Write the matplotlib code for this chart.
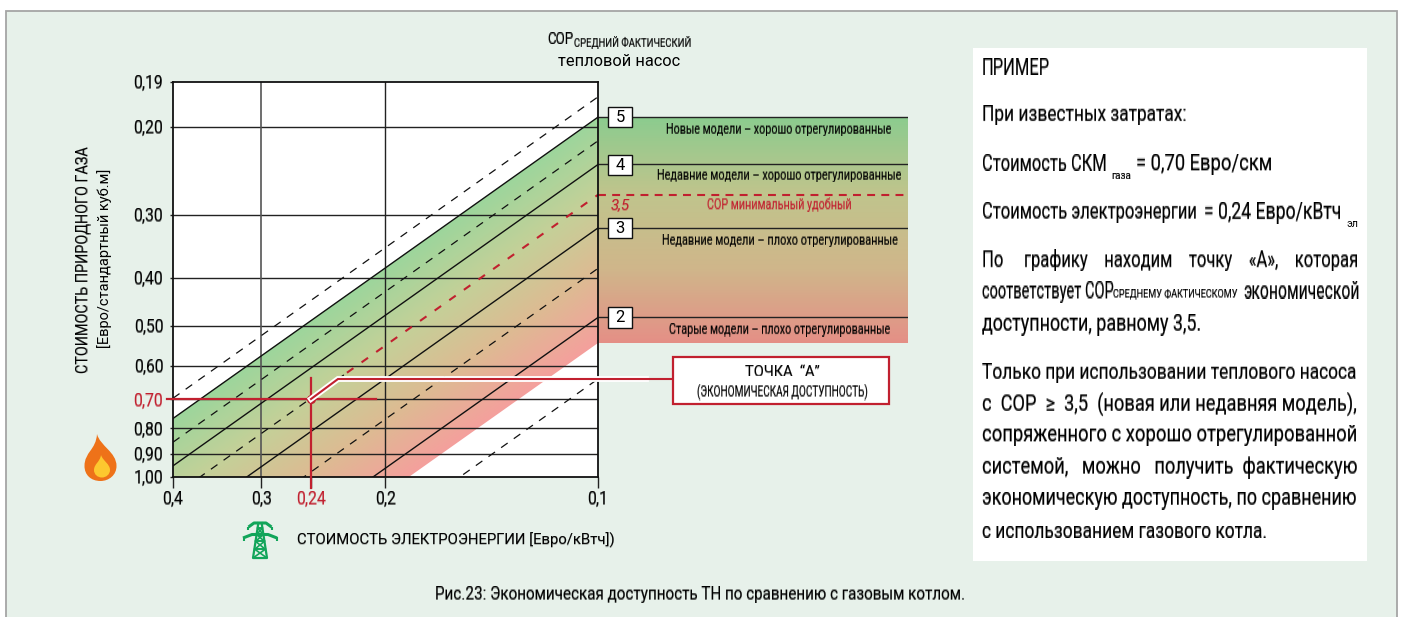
import numpy as np
import matplotlib
matplotlib.use("Agg")
import matplotlib.pyplot as plt
from matplotlib.colors import LinearSegmentedColormap
from matplotlib.patches import Rectangle, Polygon, PathPatch
from matplotlib.path import Path

W, H = 1403, 617
FONT = ['Roboto', 'DejaVu Sans']
RED = '#c1202f'
INK = '#000000'

# ---- data ----
elec_ends = [0.4, 0.1]
solid_cop = [5, 4, 3, 2]
solid_gas_at_04 = [0.764, 0.950, 1.272, 1.920]
solid_gas_at_01 = [0.191, 0.2375, 0.318, 0.480]
dashed_cop = [5.5, 4.5, 2.5, 1.5]
dashed_gas_at_04 = [0.696, 0.852, 1.532, 2.548]
dashed_gas_at_01 = [0.174, 0.213, 0.383, 0.637]
mid_gas_at_04 = 1.092
mid_gas_at_01 = 0.273
mid_red_from = (0.2268, 0.619)
band_low_at_04 = 2.16
band_low_at_01 = 0.54

gas_ticks = [0.2, 0.3, 0.4, 0.5, 0.6, 0.7, 0.8, 0.9, 1.0]
gas_labels = ['0,20', '0,30', '0,40', '0,50', '0,60', '0,70', '0,80', '0,90', '1,00']
gas_top = 0.1625
gas_top_label = '0,19'
elec_ticks = [0.4, 0.3, 0.2, 0.1]
elec_labels = ['0,4', '0,3', '0,2', '0,1']
point_x, point_x_label = 0.255, '0,24'
point_y, point_y_label = 0.70, '0,70'
cross_y_span = [0.634, 1.052]
cross_x_span = [0.408, 0.206]

fig = plt.figure(figsize=(W / 100, H / 100), dpi=100, facecolor='white')
renderer = fig.canvas.get_renderer()


def stretch(factor, axis=0):
    """Agg filter: makes the drawn glyphs taller, for the condensed look of the original type."""
    def f(img, dpi):
        a = img[..., 3:4]
        pm = np.concatenate([img[..., :3] * a, a], axis=2)
        n = pm.shape[axis]
        m = max(1, int(round(n * factor)))
        pos = np.clip((np.arange(m) + 0.5) / factor - 0.5, 0, n - 1)
        i0 = np.floor(pos).astype(int)
        i1 = np.minimum(i0 + 1, n - 1)
        t = pos - i0
        shape = [1, 1, 1]
        shape[axis] = -1
        t = t.reshape(shape)
        out = np.take(pm, i0, axis) * (1 - t) + np.take(pm, i1, axis) * t
        alpha = out[..., 3:4]
        rgb = np.where(alpha > 1e-4, out[..., :3] / np.maximum(alpha, 1e-4), 0)
        res = np.clip(np.concatenate([rgb, alpha ** 0.72], axis=2), 0, 1)
        d = -(m - n) // 2
        return (res, 0, d) if axis == 0 else (res, d, 0)
    return f


def axes_px(x0, y0, x1, y1, **kw):
    return fig.add_axes([x0 / W, 1 - y1 / H, (x1 - x0) / W, (y1 - y0) / H], **kw)


bg = axes_px(0, 0, W, H)
bg.set_xlim(0, W); bg.set_ylim(H, 0); bg.axis('off')
bg.add_patch(Rectangle((6, 11), 1391, 620, fc='#e7f1ea', ec='#a5a5a5', lw=1.3))
bg.add_patch(Rectangle((973, 48), 394, 513, fc='white', ec='none'))

# ---- main chart ----
ax = axes_px(173, 82, 598, 477, zorder=2)
ax.set_xscale('log'); ax.set_yscale('log')
ax.set_xlim(0.4, 0.1); ax.set_ylim(1.0, gas_top)
ax.set_facecolor('white')

band = LinearSegmentedColormap.from_list('band', ['#9cd59b', '#c3d098', '#dcbb92', '#f49f9c'])
side = LinearSegmentedColormap.from_list('side', ['#8bcb8e', '#bfc48c', '#cfb68a', '#e48f86'])

xg = np.geomspace(0.4, 0.1, 500)
yg = np.geomspace(0.1, 2.4, 900)
XX, YY = np.meshgrid(xg, yg)
ratio = np.log10(YY / XX)
lo = np.log10(solid_gas_at_01[0] / elec_ends[1])
hi = np.log10(band_low_at_01 / elec_ends[1])
m = ax.pcolormesh(XX, YY, (ratio - lo) / (hi - lo), cmap=band, vmin=0, vmax=1,
                  shading='nearest', rasterized=True, zorder=1)
clip = Polygon([(elec_ends[0], solid_gas_at_04[0]), (elec_ends[1], solid_gas_at_01[0]),
                (elec_ends[1], band_low_at_01), (elec_ends[0], band_low_at_04)],
               transform=ax.transData, fc='none', ec='none')
ax.add_patch(clip)
m.set_clip_path(clip)

ax.set_xticks(elec_ticks + [point_x], elec_labels + [point_x_label])
ax.set_yticks([gas_top] + gas_ticks, [gas_top_label] + gas_labels)
ax.minorticks_off()
ax.tick_params(axis='x', length=8, width=1, pad=3, labelsize=11.3, color='#222222')
ax.tick_params(axis='y', length=2, width=1, pad=5, labelsize=11.3, color='#222222')
for lab in ax.get_xticklabels() + ax.get_yticklabels():
    lab.set_family(FONT); lab.set_color(INK)
    lab.set_agg_filter(stretch(1.12))
    if lab.get_text() in (point_x_label, point_y_label):
        lab.set_color(RED)
for s in ax.spines.values():
    s.set_linewidth(1.3); s.set_color('#111111'); s.set_zorder(6)

for g in gas_ticks[:-1]:
    ax.axhline(g, color='#222222', lw=1.0, zorder=2)
ax.axvline(elec_ticks[1], color='#555555', lw=1.2, zorder=2)
ax.axvline(elec_ticks[2], color='#222222', lw=1.0, zorder=2)

for a, b in zip(solid_gas_at_04, solid_gas_at_01):
    ax.plot(elec_ends, [a, b], color='#111111', lw=1.0, zorder=3)
for a, b in zip(dashed_gas_at_04, dashed_gas_at_01):
    ax.plot(elec_ends, [a, b], color='#111111', lw=0.9, dashes=(6.4, 6), zorder=3)
ax.plot([elec_ends[0], mid_red_from[0]], [mid_gas_at_04, mid_red_from[1]],
        color='#111111', lw=0.9, dashes=(6.4, 6), zorder=3)
ax.plot([mid_red_from[0], elec_ends[1]], [mid_red_from[1], mid_gas_at_01],
        color=RED, lw=1.5, dashes=(3.8, 4.8), zorder=3)

# ---- side panel, on the same gas scale ----
ax2 = axes_px(598, 82, 908, 477, zorder=1)
ax2.set_yscale('log'); ax2.set_ylim(1.0, gas_top); ax2.set_xlim(0, 1)
ax2.axis('off')
py = np.geomspace(solid_gas_at_01[0], band_low_at_01, 300)
PX, PY = np.meshgrid([0, 1], py)
ax2.pcolormesh(PX, PY, np.linspace(0, 1, 299)[:, None], cmap=side, vmin=0, vmax=1, zorder=1)
for g in solid_gas_at_01:
    ax2.plot([0, 1], [g, g], color='#222222', lw=1.0, zorder=2)
ax2.plot([0, 1], [mid_gas_at_01] * 2, color=RED, lw=1.5, dashes=(3.8, 3), zorder=2)

# ---- overlay in pixels ----
ov = axes_px(0, 0, W, H, zorder=5)
ov.set_xlim(0, W); ov.set_ylim(H, 0); ov.axis('off'); ov.patch.set_alpha(0)

# leader and crosshair
ov.plot([311, 338, 646], [399, 379, 379], color='white', lw=4.2, solid_joinstyle='miter', zorder=2)
ov.plot([311, 338, 673], [399, 379, 379], color=RED, lw=1.5, solid_joinstyle='miter', zorder=3)
ax.plot([point_x, point_x], cross_y_span, color=RED, lw=1.6, clip_on=False, zorder=7)
ax.plot(cross_x_span, [point_y, point_y], color=RED, lw=1.6, clip_on=False, zorder=7)
ax.plot([point_x], [point_y], 'o', color=RED, ms=5.5, zorder=8)


def fit(x0, x1, y, s, size=12, color=INK, **kw):
    """Text spanning x0..x1: width from the font size, height kept at the wanted size."""
    t = ov.text(x0, y, s, fontsize=size, ha='left', va='center', color=color, family=FONT, zorder=6, **kw)
    fs = size * (x1 - x0) / t.get_window_extent(renderer).width
    t.set_fontsize(fs)
    if fs < size:
        t.set_agg_filter(stretch(size / fs))
    return t


def justify(x0, x1, y, s, size, base=0.80):
    t = ov.text(x0, y, s, fontsize=size * base, ha='left', va='center', color=INK, family=FONT, zorder=6)
    words = s.split(' ')
    gaps = [1] * (len(words) - 1)
    i = 0
    for _ in range(80):
        if t.get_window_extent(renderer).width >= x1 - x0 - 2:
            break
        gaps[i % len(gaps)] += 1
        i += 1
        t.set_text(''.join(w + ' ' * g for w, g in zip(words, gaps + [0])))
    fs = size * base * (x1 - x0) / t.get_window_extent(renderer).width
    t.set_fontsize(fs)
    t.set_agg_filter(stretch(size / fs))
    return t


def vfit(x, y0, y1, s, size):
    t = ov.text(x, (y0 + y1) / 2, s, fontsize=size, ha='center', va='center', rotation=90,
                color=INK, family=FONT, zorder=6)
    fs = size * (y1 - y0) / t.get_window_extent(renderer).height
    t.set_fontsize(fs)
    if fs < size:
        t.set_agg_filter(stretch(size / fs, axis=1))
    return t


# headers
fit(547, 573, 39, 'СОР', 13)
fit(574, 691, 42, 'СРЕДНИЙ ФАКТИЧЕСКИЙ', 7.5)
fit(558, 679, 62, 'тепловой насос', 11)

# axis titles
vfit(84, 147, 373, 'СТОИМОСТЬ ПРИРОДНОГО ГАЗА', 11.5)
vfit(105, 168, 348, '[Евро/стандартный куб.м]', 10.5)
fit(297, 613, 540, 'СТОИМОСТЬ ЭЛЕКТРОЭНЕРГИИ [Евро/кВтч])', 10.8)

# number boxes
for v, (y0, y1) in zip(['5', '4', '3', '2'], [(107, 127), (155, 175), (218, 238), (307, 328)]):
    ov.add_patch(Rectangle((608, y0), 24, y1 - y0, fc='white', ec='#111111', lw=1.0, zorder=4))
    ov.text(620, (y0 + y1) / 2 + 0.5, v, fontsize=12, ha='center', va='center', color=INK, family=FONT, zorder=6)

# panel labels
fit(666, 892, 129, 'Новые модели – хорошо отрегулированные', 10.5)
fit(657, 900, 175, 'Недавние модели – хорошо отрегулированные', 10.5)
fit(707, 852, 205, 'СОР минимальный удобный', 10.5, color=RED)
fit(611, 630, 205, '3,5', 11, color=RED, style='italic')
fit(662, 896, 240, 'Недавние модели – плохо отрегулированные', 10.5)
fit(669, 889, 330, 'Старые модели – плохо отрегулированные', 10.5)

# callout
ov.add_patch(Rectangle((673, 357), 216, 47, fc='white', ec=RED, lw=1.6, zorder=4))
fit(745, 820, 372, 'ТОЧКА  “А”', 11)
fit(697, 867, 392, '(ЭКОНОМИЧЕСКАЯ ДОСТУПНОСТЬ)', 10)

# flame
M, C4, CP = Path.MOVETO, Path.CURVE4, Path.CLOSEPOLY
flame = Path([(97, 434), (100, 446), (116.5, 452), (116.5, 466), (116.5, 475), (109, 481), (100.5, 481),
              (91, 481), (84.5, 475), (84.5, 466), (84.5, 452), (96, 450), (97, 434), (97, 434)],
             [M, C4, C4, C4, C4, C4, C4, C4, C4, C4, C4, C4, C4, CP])
ov.add_patch(PathPatch(flame, fc='#ee7219', ec='none', zorder=4))
inner = Path([(101, 455), (103, 461), (110, 464), (110, 470), (110, 474.5), (106, 477.5), (102, 477.5),
              (97.5, 477.5), (94, 474.5), (94, 470), (94, 464), (100, 462), (101, 455), (101, 455)],
             [M, C4, C4, C4, C4, C4, C4, C4, C4, C4, C4, C4, C4, CP])
ov.add_patch(PathPatch(inner, fc='#fdc82f', ec='none', zorder=5))

# pylon
G = '#12a55a'
pk = dict(color=G, solid_capstyle='butt', zorder=4)
ov.plot([258.5, 253, 267, 261.5], [522, 558, 558, 522], lw=1.6, **pk)
ov.plot([253, 265.6, 255, 264.8, 256, 263.8, 257, 262.6, 258],
        [558, 549, 549, 541, 541, 534, 534, 528, 528], lw=1.2, **pk)
ov.plot([267, 254.4, 265, 255.2, 264, 256.2, 263, 257.4, 262],
        [558, 549, 549, 541, 541, 534, 534, 528, 528], lw=1.2, **pk)
ov.plot([248.5, 254, 266, 271.5], [527, 523, 523, 527], lw=2.2, **pk)
ov.plot([243, 252, 268, 277], [538, 534.5, 534.5, 538], lw=2.2, **pk)
ov.plot([248, 248], [527, 530], lw=1.5, **pk)
ov.plot([272, 272], [527, 530], lw=1.5, **pk)
ov.plot([243.5, 243.5], [537, 541], lw=1.5, **pk)
ov.plot([276.5, 276.5], [537, 541], lw=1.5, **pk)

# text panel
S = 16.5
TL, TR = 982, 1358
fit(TL, 1050, 67, 'ПРИМЕР', S)
fit(TL, 1186, 115, 'При известных затратах:', S)
fit(TL, 1106, 164, 'Стоимость СКМ', S)
fit(1111, 1131, 176, 'газа', 7.5)
fit(1136, 1272, 164, '= 0,70 Евро/скм', S)
fit(TL, 1197, 212, 'Стоимость электроэнергии', S)
fit(1204, 1341, 212, '= 0,24 Евро/кВтч', S)
fit(1346, 1358, 224, 'эл', 7.5)
justify(TL, TR, 260, 'По графику находим точку «А», которая', S, base=0.72)
fit(TL, 1113, 292, 'соответствует СОР', S)
fit(1113, 1238, 294, 'СРЕДНЕМУ ФАКТИЧЕСКОМУ', 8)
fit(1243, TR, 292, 'экономической', S)
fit(TL, 1200, 324, 'доступности, равному 3,5.', S)
justify(TL, TR, 372, 'Только при использовании теплового насоса', S)
justify(TL, TR, 404, 'с СОР ≥ 3,5 (новая или недавняя модель),', S)
justify(TL, TR, 435, 'сопряженного с хорошо отрегулированной', S)
justify(TL, TR, 467, 'системой, можно получить фактическую', S)
justify(TL, TR, 499, 'экономическую доступность, по сравнению', S)
fit(TL, 1266, 531, 'с использованием газового котла.', S)

# caption
fit(435, 967, 594, 'Рис.23: Экономическая доступность ТН по сравнению с газовым котлом.', 13.5)

fig.savefig('out.png', dpi=100, facecolor='white')
